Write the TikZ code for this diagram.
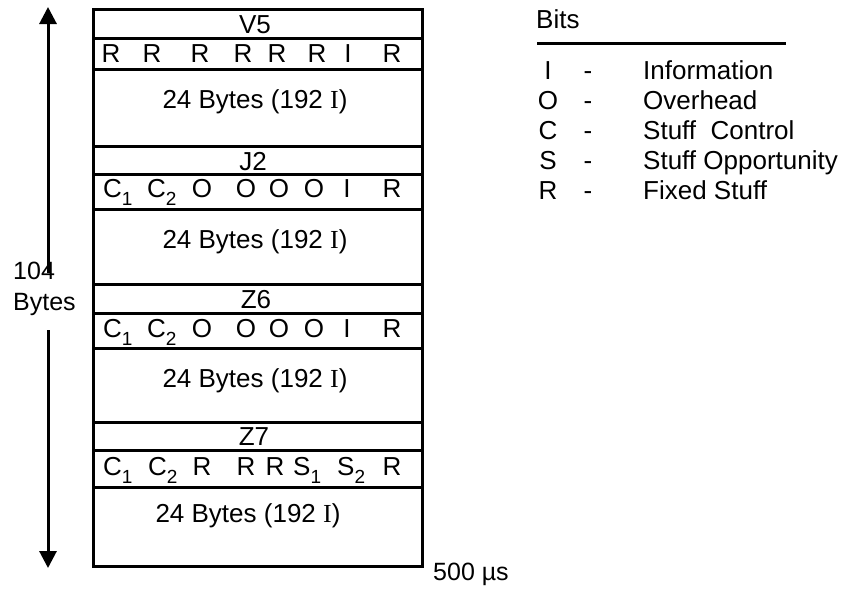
\documentclass[tikz,border=0pt]{standalone}
\usepackage{fontspec}
\setmainfont{Liberation Sans}
\newfontfamily\tnr{Liberation Serif}
\usetikzlibrary{arrows.meta}
\newcommand\sbs[1]{\raisebox{-0.32em}{\fontsize{19}{20}\selectfont #1}}
\begin{document}
\begin{tikzpicture}[x=1pt,y=-1pt,
  txt/.style={inner sep=0pt,font=\fontsize{26}{30}\selectfont},
  stxt/.style={inner sep=0pt,font=\fontsize{25}{29}\selectfont},
  frame/.style={line width=3pt},
  rulex/.style={line width=3pt},
  arr/.style={line width=3pt,-{Triangle[width=17pt,length=17pt]}}]
\useasboundingbox (0,0) rectangle (845,589);
% frame
\draw[frame] (93,9) rectangle (422,566);
\foreach \yy in {38,69,146,174,209,284,313,348,422,450,487}
  \draw[frame] (93,\yy) -- (422,\yy);
% headers
\node[txt,anchor=base] (hv5) at (255,33) {V5};
\node[txt,anchor=base] (hj2) at (253,170) {J2};
\node[txt,anchor=base] (hz6) at (256,308) {Z6};
\node[txt,anchor=base] (hz7) at (254,445) {Z7};
% V5 bits
\foreach \xx/\tt [count=\i] in {111/R,152/R,200/R,243/R,277/R,317/R,348/I,392/R}
  \node[txt,anchor=base] (vb\i) at (\xx,62) {\tt};
% J2 bits
\node[txt,anchor=base west] (jb1) at (103,197) {C\sbs{1}};
\node[txt,anchor=base west] (jb2) at (147,197) {C\sbs{2}};
\foreach \xx/\tt [count=\i from 3] in {202/O,246/O,279/O,314/O,347/I,392/R}
  \node[txt,anchor=base] (jb\i) at (\xx,197) {\tt};
% Z6 bits
\node[txt,anchor=base west] (zb1) at (103,337) {C\sbs{1}};
\node[txt,anchor=base west] (zb2) at (147,337) {C\sbs{2}};
\foreach \xx/\tt [count=\i from 3] in {202/O,246/O,279/O,314/O,347/I,392/R}
  \node[txt,anchor=base] (zb\i) at (\xx,337) {\tt};
% Z7 bits
\node[txt,anchor=base west] (sb1) at (103,475) {C\sbs{1}};
\node[txt,anchor=base west] (sb2) at (148,475) {C\sbs{2}};
\node[txt,anchor=base] (sb3) at (202,475) {R};
\node[txt,anchor=base] (sb4) at (246,475) {R};
\node[txt,anchor=base] (sb5) at (275,475) {R};
\node[txt,anchor=base west] (sb6) at (293,475) {S\sbs{1}};
\node[txt,anchor=base west] (sb7) at (337,475) {S\sbs{2}};
\node[txt,anchor=base] (sb8) at (392,475) {R};
% data
\node[txt,anchor=base] (d1) at (255,108) {24 Bytes (192 {\tnr I})};
\node[txt,anchor=base] (d2) at (255,248) {24 Bytes (192 {\tnr I})};
\node[txt,anchor=base] (d3) at (255,387) {24 Bytes (192 {\tnr I})};
\node[txt,anchor=base] (d4) at (248,522) {24 Bytes (192 {\tnr I})};
% size arrow
\node[stxt,anchor=base west] (n104) at (13,279) {104};
\node[stxt,anchor=base west] (nbytes) at (13,310) {Bytes};
\coordinate (atop) at (48,7);
\coordinate (abot) at (48,568);
\coordinate (ua) at (48,273);
\coordinate (la) at (48,330);
\draw[arr] (ua) -- (atop);
\draw[arr] (la) -- (abot);
% time
\node[stxt,anchor=base west] (t500) at (433,580) {500 µs};
% legend
\node[txt,anchor=base west] (bits) at (536,28) {Bits};
\draw[rulex] (537,43) -- (786,43);
\foreach \ll/\dd/\yy [count=\i] in {I/Information/79,O/Overhead/109,C/Stuff\ \ Control/139,S/Stuff Opportunity/169,R/Fixed Stuff/199}{
  \node[txt,anchor=base] (lk\i) at (548,\yy) {\ll};
  \node[txt,anchor=base] (ld\i) at (588,\yy) {-};
  \node[txt,anchor=base west] (lt\i) at (643,\yy) {\dd};
}
\end{tikzpicture}
\end{document}
